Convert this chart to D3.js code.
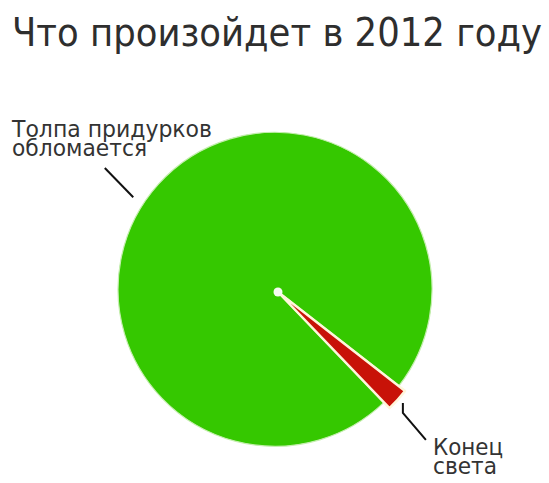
<!DOCTYPE html>
<html>
<head>
<meta charset="utf-8">
<script src="https://cdn.jsdelivr.net/npm/d3@7"></script>
<style>
  body { margin: 0; background: #fff; }
  text { font-family: "DejaVu Sans", Verdana, sans-serif; fill: #333; }
  .title { font-family: "DejaVu Sans Condensed", "DejaVu Sans", sans-serif; font-stretch: condensed; }
</style>
</head>
<body>
<svg id="chart" width="549" height="483"></svg>
<script>
// Data
const title = 'Что произойдет в 2012 году';
const categories = ['Толпа придурков обломается', 'Конец света'];
const labelLines = [['Толпа придурков', 'обломается'], ['Конец', 'света']];
const values = [97.7, 2.3];
const colors = ['#35c800', '#c81208'];

const width = 549;
const height = 483;
const cx = 278, cy = 292;

const svg = d3.select('#chart');

// Title
svg.append('text')
  .attr('class', 'title')
  .attr('x', 12)
  .attr('y', 46)
  .attr('textLength', 530)
  .attr('lengthAdjust', 'spacingAndGlyphs')
  .style('font-size', '39.5px')
  .style('fill', '#2e2e2e')
  .text(title);

// Pie: rotate so the small slice points to lower right
const redStart = 127.9 * Math.PI / 180;
const start = redStart + values[1] / d3.sum(values) * 2 * Math.PI;
const pie = d3.pie().sort(null).value(d => d)
  .startAngle(start)
  .endAngle(start + 2 * Math.PI);
const arcs = pie(values);

const radii = [157, 161];
const offsets = [4, 0];

const g = svg.append('g').attr('transform', `translate(${cx},${cy})`);

g.selectAll('path.slice')
  .data(arcs)
  .join('path')
  .attr('class', 'slice')
  .attr('d', (d, i) => d3.arc().innerRadius(0).outerRadius(radii[i])(d))
  .attr('transform', (d, i) => {
    const a = (d.startAngle + d.endAngle) / 2;
    const [ox, oy] = d3.pointRadial(a, offsets[i]);
    return `translate(${ox},${oy})`;
  })
  .attr('fill', (d, i) => colors[i])
  .attr('stroke', (d, i) => i === 1 ? '#fff6dc' : '#c4eeae')
  .attr('stroke-width', (d, i) => i === 1 ? 2.5 : 1.2)
  .attr('stroke-linejoin', 'round');

// Center dot
g.append('circle')
  .attr('r', 4.5)
  .attr('fill', '#f6fcf2');

// Leader lines
const deg = Math.PI / 180;
const p1 = d3.pointRadial(-56.8 * deg, 173);
const p2 = d3.pointRadial(-54.4 * deg, 213);
g.append('path')
  .attr('d', d3.line()([p1, p2]))
  .attr('fill', 'none')
  .attr('stroke', '#111')
  .attr('stroke-width', 2);

const q1 = d3.pointRadial(131.6 * deg, 167);
const q2 = [q1[0], q1[1] + 10];
const q3 = [q1[0] + 23, q1[1] + 37];
g.append('path')
  .attr('d', d3.line()([q1, q2, q3]))
  .attr('fill', 'none')
  .attr('stroke', '#111')
  .attr('stroke-width', 2);

// Labels
const labelPos = [[12, 137], [433, 455]];
const lineWidths = [[200, 135], [70, 64]];
labelLines.forEach((lines, i) => {
  const t = svg.append('text')
    .attr('x', labelPos[i][0])
    .attr('y', labelPos[i][1])
    .style('font-size', '23px');
  lines.forEach((line, j) => {
    t.append('tspan')
      .attr('x', labelPos[i][0])
      .attr('dy', j === 0 ? 0 : 18.5)
      .attr('textLength', lineWidths[i][j])
      .attr('lengthAdjust', 'spacingAndGlyphs')
      .text(line);
  });
});
</script>
</body>
</html>
